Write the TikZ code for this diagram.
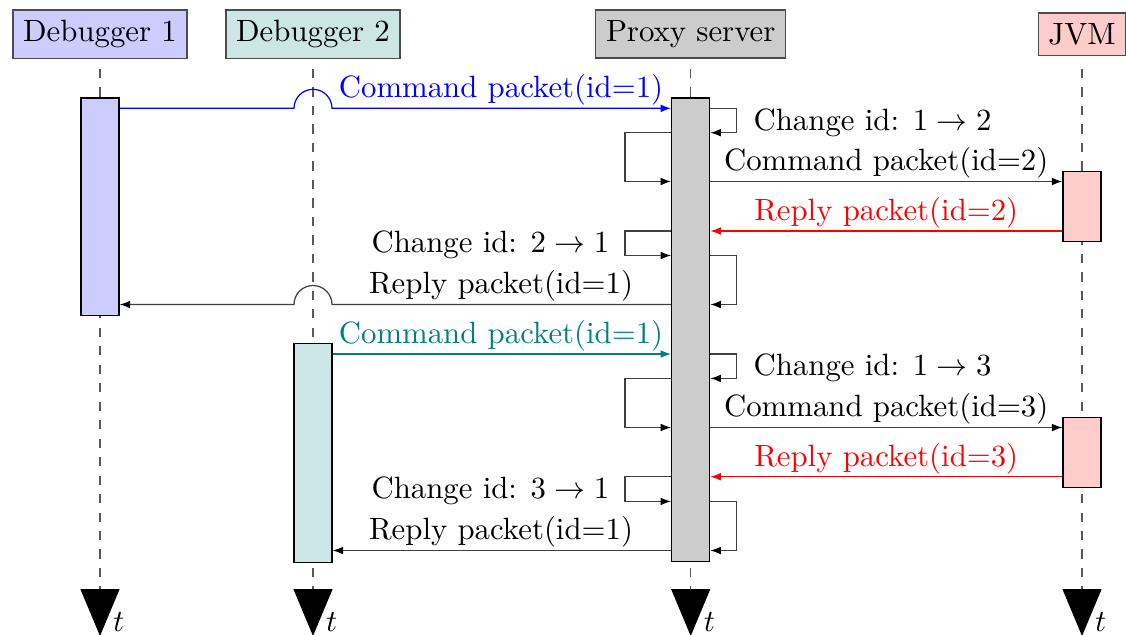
\documentclass[tikz,border=0pt]{standalone}
\usetikzlibrary{arrows.meta,calc}
\newcommand\pxu{0.3247pt}

\begin{document}
\begin{tikzpicture}[x=\pxu, y=-\pxu,
  head/.style={draw=black!70, inner sep=3.33pt, anchor=center},
  actbar/.style={draw=black, inner sep=0pt, anchor=north, minimum width={38*\pxu}},
  lifeline/.style={dashed, draw=black!65,
    -{Triangle[length=15.2pt, width=12.6pt, color=black]}},
  msg/.style={draw=black!75, -{Latex[length=3.4pt, width=2.5pt, color=black]}},
  cmsg/.style={-{Latex[length=3.4pt, width=2.5pt]}},
  lbl/.style={inner sep=0pt},
]
\useasboundingbox (0,0) rectangle (1126,634);

% participants
\node[head, fill=blue!20] (d1) at (100,34) {Debugger 1};
\node[head, fill=teal!20] (d2) at (313,34) {Debugger 2};
\node[head, fill=gray!40] (px) at (690.7,34) {Proxy server};
\node[head, fill=red!20]  (jvm) at (1082,34) {JVM};

% lifelines with time arrows
\foreach \n/\x in {d1/100, d2/313, px/690.7, jvm/1082} {
  \coordinate (\n top) at (\x,69);
  \coordinate (\n end) at (\x,636);
  \draw[lifeline] (\n top) -- (\n end);
}
\node[lbl, anchor=base west] (d1t)  at (112.5,631) {$t$};
\node[lbl, anchor=base west] (d2t)  at (325.5,631) {$t$};
\node[lbl, anchor=base west] (pxt)  at (703.2,631) {$t$};
\node[lbl, anchor=base west] (jvmt) at (1094.5,631) {$t$};

% activation bars
\node[actbar, fill=blue!20, minimum height={217.7*\pxu}] (d1bar) at (100,97.3) {};
\node[actbar, fill=teal!20, minimum height={219*\pxu}] (d2bar) at (313,343) {};
\node[actbar, fill=gray!40, minimum height={463.7*\pxu}] (pbar) at (690.7,97.3) {};
\node[actbar, fill=red!20, minimum height={70*\pxu}] (jbar1) at (1082,171) {};
\node[actbar, fill=red!20, minimum height={70*\pxu}] (jbar2) at (1082,417) {};

% message levels
\coordinate (m1) at (0,108.3);
\coordinate (m2) at (0,132.7);
\coordinate (m3) at (0,181.5);
\coordinate (m4) at (0,231);
\coordinate (m5) at (0,255.5);
\coordinate (m6) at (0,304.5);
\coordinate (m7) at (0,354);
\coordinate (m8) at (0,378.4);
\coordinate (m9) at (0,427.5);
\coordinate (m10) at (0,476.7);
\coordinate (m11) at (0,501.4);
\coordinate (m12) at (0,550.5);

% first request from Debugger 1
\draw[cmsg, draw=blue] (d1bar.east |- m1) -- ($(d2top |- m1)+(-19,0)$)
  arc[start angle=180, end angle=360, radius=19] -- (pbar.west |- m1);
\node[lbl, anchor=base, text=blue] (l1) at (501,97.5) {Command packet(id=1)};

\draw[msg] (pbar.east |- m1) -- ++(26.3,0) |- (pbar.east |- m2);
\node[lbl, anchor=base west] (l2) at (753,130) {Change id: $1 \rightarrow 2$};

\draw[msg] (pbar.west |- m2) -- ++(-46,0) |- (pbar.west |- m3);

\draw[msg] (pbar.east |- m3) -- (jbar1.west |- m3);
\node[lbl, anchor=base] (l3) at (886.2,170.5) {Command packet(id=2)};

\draw[cmsg, draw=red] (jbar1.west |- m4) -- (pbar.east |- m4);
\node[lbl, anchor=base, text=red] (l4) at (886.2,220) {Reply packet(id=2)};

\draw[msg] (pbar.west |- m4) -- ++(-46,0) |- (pbar.west |- m5);
\node[lbl, anchor=base east] (l5) at (610,252.5) {Change id: $2 \rightarrow 1$};

\draw[msg] (pbar.east |- m5) -- ++(26.3,0) |- (pbar.east |- m6);

\draw[msg] (pbar.west |- m6) -- ($(d2top |- m6)+(19,0)$)
  arc[start angle=0, end angle=-180, radius=19] -- (d1bar.east |- m6);
\node[lbl, anchor=base] (l6) at (501,293.5) {Reply packet(id=1)};

% second request from Debugger 2
\draw[cmsg, draw=teal] (d2bar.east |- m7) -- (pbar.west |- m7);
\node[lbl, anchor=base, text=teal] (l7) at (501,343) {Command packet(id=1)};

\draw[msg] (pbar.east |- m7) -- ++(26.3,0) |- (pbar.east |- m8);
\node[lbl, anchor=base west] (l8) at (753,375.8) {Change id: $1 \rightarrow 3$};

\draw[msg] (pbar.west |- m8) -- ++(-46,0) |- (pbar.west |- m9);

\draw[msg] (pbar.east |- m9) -- (jbar2.west |- m9);
\node[lbl, anchor=base] (l9) at (886.2,416.5) {Command packet(id=3)};

\draw[cmsg, draw=red] (jbar2.west |- m10) -- (pbar.east |- m10);
\node[lbl, anchor=base, text=red] (l10) at (886.2,466) {Reply packet(id=3)};

\draw[msg] (pbar.west |- m10) -- ++(-46,0) |- (pbar.west |- m11);
\node[lbl, anchor=base east] (l11) at (610,498.5) {Change id: $3 \rightarrow 1$};

\draw[msg] (pbar.east |- m11) -- ++(26.3,0) |- (pbar.east |- m12);

\draw[msg] (pbar.west |- m12) -- (d2bar.east |- m12);
\node[lbl, anchor=base] (l12) at (501,539.5) {Reply packet(id=1)};
\end{tikzpicture}
\end{document}
